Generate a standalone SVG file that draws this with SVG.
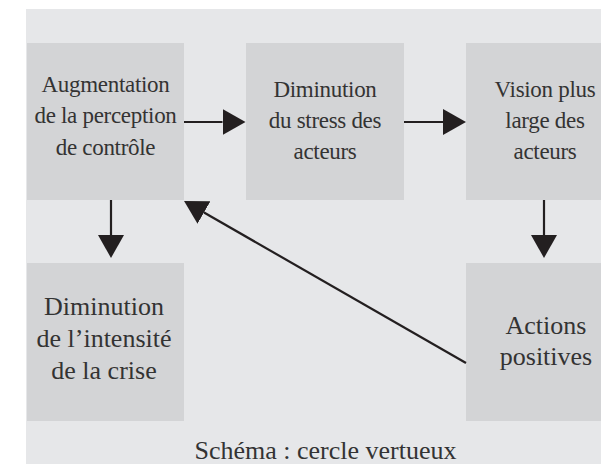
<svg xmlns="http://www.w3.org/2000/svg" width="601" height="464" viewBox="0 0 601 464">
  <style>
    .box { fill: #d3d4d6; }
    text { font-family: 'Liberation Serif', 'DejaVu Serif', serif; fill: #333333; text-anchor: middle; }
    .top { font-size: 23px; letter-spacing: -0.3px; }
    .bot { font-size: 26px; }
    .conn { stroke: #231f20; stroke-width: 2.2; fill: none; marker-end: url(#head); }
  </style>
  <defs>
    <marker id="head" markerUnits="userSpaceOnUse" markerWidth="24" markerHeight="27" refX="0" refY="13" orient="auto" viewBox="0 0 24 26">
      <path d="M0,0 L23,13 L0,26 Z" fill="#231f20"/>
    </marker>
  </defs>
  <rect x="0" y="0" width="601" height="464" fill="#ffffff"/>
  <rect x="26" y="9" width="575" height="455" fill="#e6e7e9"/>

  <g id="node-augmentation">
    <rect class="box" x="27" y="43" width="157" height="157"/>
    <text class="top" font-family="Liberation Serif, serif"><tspan x="105.5" y="92">Augmentation</tspan><tspan x="105.5" y="123">de la perception</tspan><tspan x="105.5" y="155">de contrôle</tspan></text>
  </g>
  <g id="node-diminution-stress">
    <rect class="box" x="246" y="43" width="158" height="157"/>
    <text class="top" font-family="Liberation Serif, serif"><tspan x="325" y="97">Diminution</tspan><tspan x="325" y="128">du stress des</tspan><tspan x="325" y="159">acteurs</tspan></text>
  </g>
  <g id="node-vision">
    <rect class="box" x="466" y="43" width="157" height="157"/>
    <text class="top" font-family="Liberation Serif, serif"><tspan x="545" y="97">Vision plus</tspan><tspan x="545" y="128">large des</tspan><tspan x="545" y="159">acteurs</tspan></text>
  </g>
  <g id="node-diminution-crise">
    <rect class="box" x="27" y="263" width="157" height="158"/>
    <text class="bot" font-family="Liberation Serif, serif"><tspan x="104" y="315">Diminution</tspan><tspan x="104" y="347">de l’intensité</tspan><tspan x="104" y="379">de la crise</tspan></text>
  </g>
  <g id="node-actions">
    <rect class="box" x="466" y="263" width="157" height="158"/>
    <text class="bot" font-family="Liberation Serif, serif"><tspan x="546" y="334">Actions</tspan><tspan x="546" y="365">positives</tspan></text>
  </g>

  <g id="connectors">
    <line class="conn" x1="184" y1="122" x2="222.5" y2="122"/>
    <line class="conn" x1="404" y1="122" x2="443" y2="122"/>
    <line class="conn" x1="111" y1="200" x2="111" y2="235"/>
    <line class="conn" x1="544" y1="200" x2="544" y2="235"/>
    <line class="conn" x1="466" y1="363" x2="204" y2="212.5"/>
  </g>

  <text id="caption" x="325.5" y="459" font-size="26" font-family="Liberation Serif, serif">Schéma : cercle vertueux</text>
</svg>
